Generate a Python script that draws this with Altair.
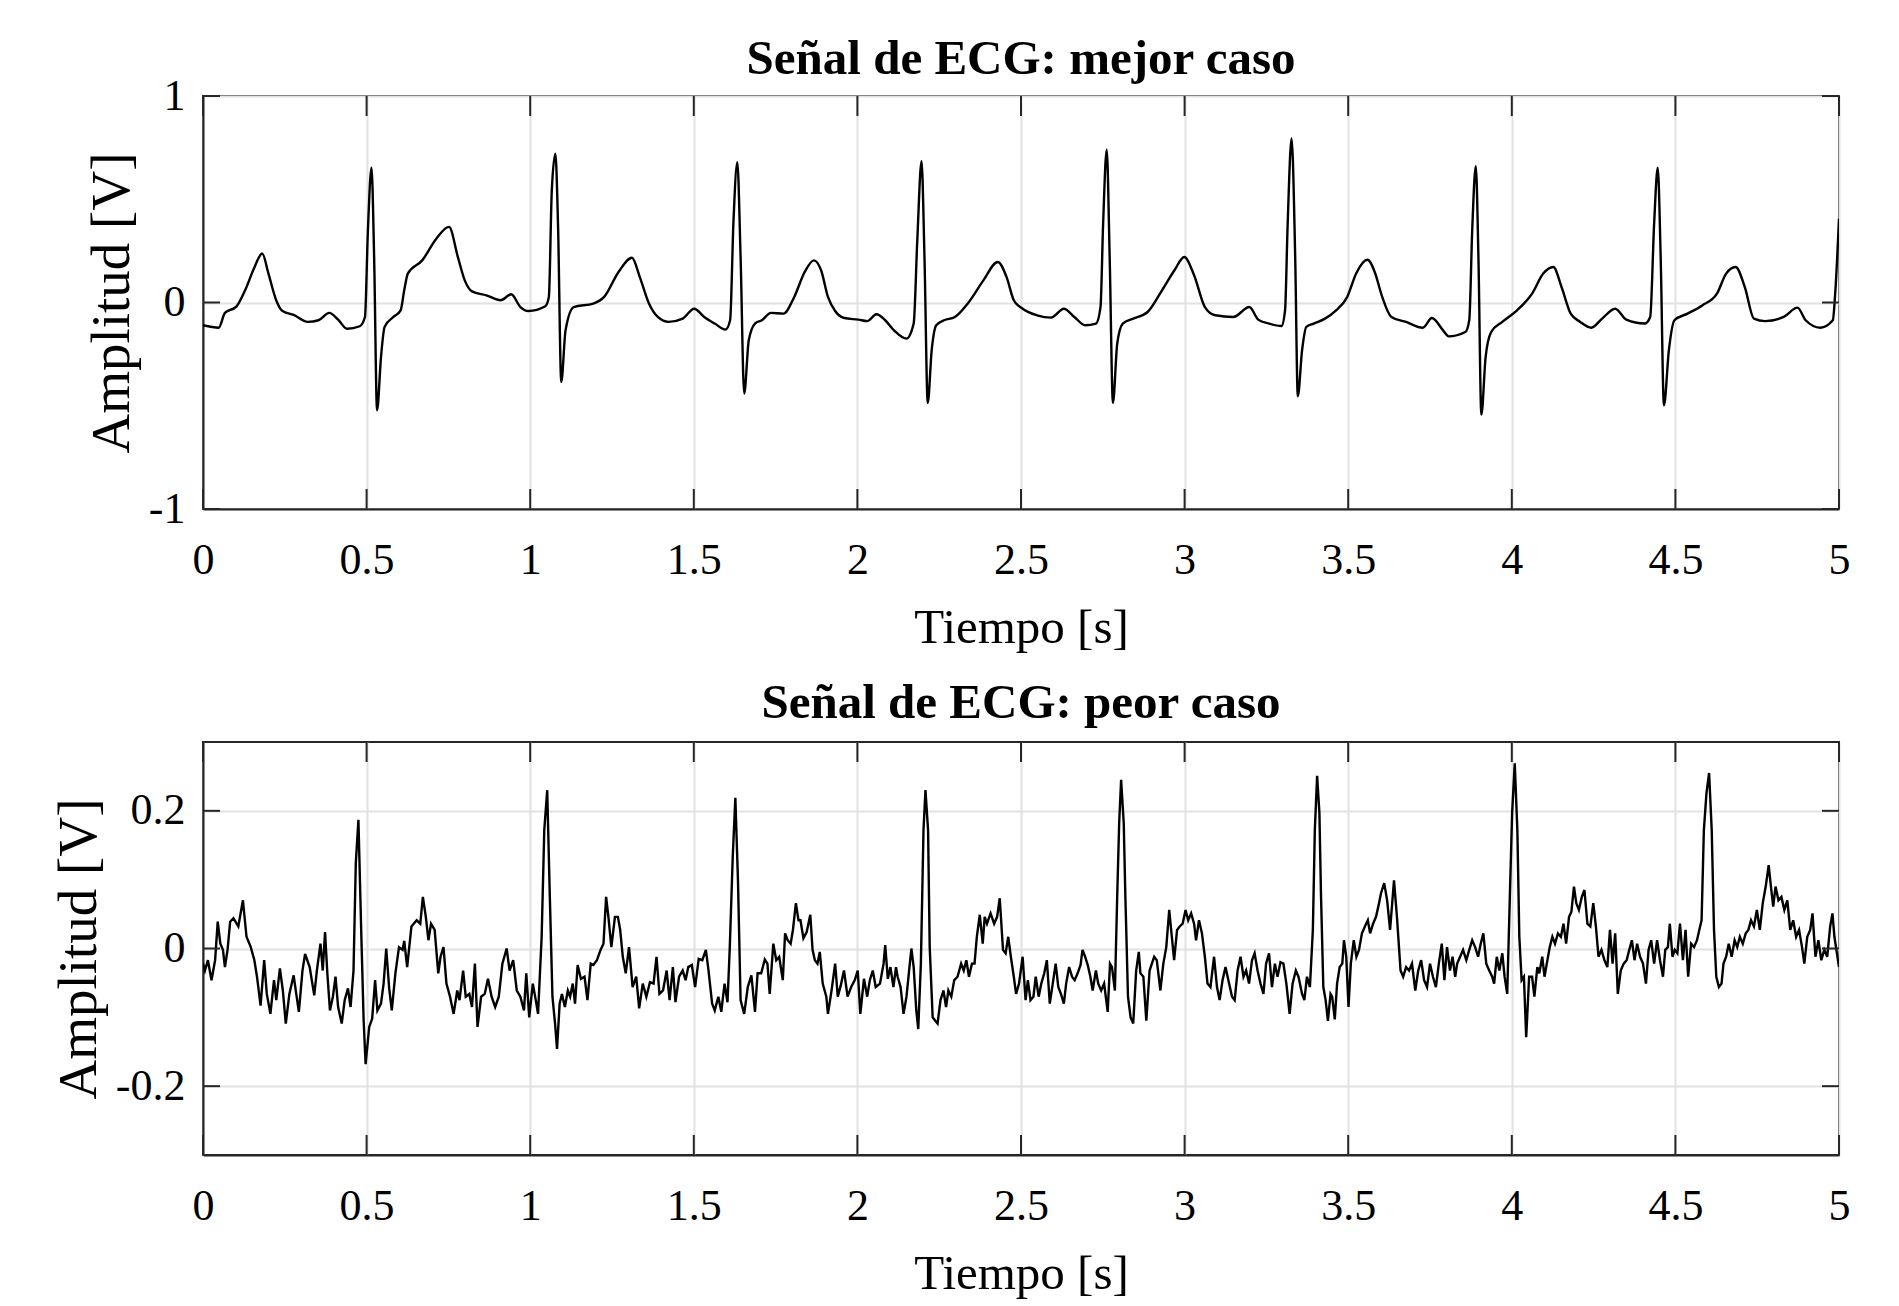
import altair as alt
import pandas as pd

# ---------------- data ----------------
best_t = [0.0, 0.048, 0.067, 0.102, 0.129, 0.157, 0.181, 0.2, 0.224, 0.242, 0.277, 0.32, 0.353, 0.386, 0.413, 0.44, 0.479, 0.495,
          0.504, 0.515, 0.523, 0.532, 0.544, 0.555, 0.582, 0.604, 0.615, 0.626, 0.670, 0.713, 0.752, 0.779, 0.8, 0.822, 0.866,
          0.91, 0.942, 0.97, 0.995, 1.046, 1.057, 1.066, 1.077, 1.085, 1.095, 1.108, 1.133, 1.193, 1.226, 1.27, 1.311, 1.335,
          1.363, 1.39, 1.423, 1.466, 1.501, 1.532, 1.564, 1.597, 1.611, 1.621, 1.633, 1.643, 1.654, 1.668, 1.687,
          1.708, 1.736, 1.774, 1.807, 1.839, 1.867, 1.889, 1.91, 1.932, 1.96, 2.003, 2.03, 2.058, 2.085, 2.112, 2.15, 2.172,
          2.183, 2.196, 2.205, 2.215, 2.227, 2.241, 2.265, 2.298, 2.341, 2.385, 2.429, 2.456, 2.478, 2.505, 2.549, 2.592,
          2.631, 2.663, 2.696, 2.729, 2.743, 2.751, 2.762, 2.771, 2.781, 2.794, 2.811, 2.843, 2.887, 2.931, 2.969, 2.999,
          3.029, 3.062, 3.094, 3.149, 3.198, 3.225, 3.258, 3.296, 3.307, 3.315, 3.327, 3.338, 3.346, 3.359, 3.372, 3.395,
          3.429, 3.463, 3.497, 3.525, 3.559, 3.581, 3.604, 3.632, 3.677, 3.728, 3.756, 3.79, 3.807, 3.858, 3.87, 3.879,
          3.89, 3.898, 3.907, 3.92, 3.937, 3.971, 4.016, 4.062, 4.096, 4.127, 4.152, 4.18, 4.209, 4.243, 4.276, 4.316,
          4.35, 4.406, 4.423, 4.435, 4.446, 4.455, 4.465, 4.48, 4.497, 4.537, 4.582, 4.627, 4.655, 4.684, 4.712, 4.74,
          4.774, 4.831, 4.873, 4.898, 4.943, 4.981, 4.989, 5.0]
best_v = [-0.11, -0.122, -0.05, -0.02, 0.06, 0.17, 0.237, 0.14, 0.01, -0.04, -0.06, -0.094, -0.086, -0.05, -0.083, -0.127, -0.115, -0.07,
          0.35, 0.653, 0.22, -0.522, -0.264, -0.118, -0.07, -0.038, 0.059, 0.14, 0.204, 0.309, 0.366, 0.22, 0.107, 0.054, 0.035,
          0.011, 0.04, -0.022, -0.041, -0.018, 0.027, 0.543, 0.72, 0.38, -0.385, -0.135, -0.022, -0.005, 0.027, 0.148, 0.217, 0.123,
          -0.005, -0.07, -0.094, -0.078, -0.03, -0.07, -0.102, -0.131, -0.086, 0.382, 0.68, 0.22, -0.441, -0.183, -0.102,
          -0.086, -0.05, -0.054, 0.027, 0.148, 0.204, 0.156, 0.027, -0.041, -0.075, -0.083, -0.09, -0.057, -0.086, -0.135, -0.175, -0.102,
          0.3, 0.684, 0.22, -0.486, -0.232, -0.11, -0.086, -0.07, 0.003, 0.107, 0.196, 0.123, 0.011, -0.03, -0.062, -0.073,
          -0.03, -0.07, -0.11, -0.102, -0.022, 0.382, 0.74, 0.22, -0.486, -0.2, -0.102, -0.078, -0.046, 0.059, 0.156, 0.22,
          0.132, -0.022, -0.062, -0.07, -0.022, -0.083, -0.102, -0.114, -0.038, 0.382, 0.794, 0.22, -0.454, -0.232, -0.118, -0.102,
          -0.078, -0.038, 0.027, 0.143, 0.207, 0.148, 0.027, -0.07, -0.094, -0.122, -0.075, -0.135, -0.164, -0.143, -0.086, 0.35,
          0.66, 0.22, -0.543, -0.264, -0.143, -0.094, -0.038, 0.043, 0.14, 0.172, 0.075, -0.054, -0.094, -0.122, -0.078, -0.03,
          -0.083, -0.102, -0.07, 0.382, 0.653, 0.22, -0.498, -0.232, -0.086, -0.054, -0.014, 0.043, 0.14, 0.172, 0.075, -0.078,
          -0.09, -0.07, -0.025, -0.086, -0.122, -0.086, 0.059, 0.406]

worst_t = [0.0, 0.006, 0.015, 0.026, 0.037, 0.045, 0.053, 0.061, 0.067, 0.075, 0.083, 0.093, 0.108, 0.122, 0.133, 0.146, 0.157, 0.165,
           0.176, 0.187, 0.195, 0.206, 0.217, 0.224, 0.235, 0.244, 0.253, 0.264, 0.277, 0.285, 0.293, 0.304, 0.312, 0.326, 0.340,
           0.348, 0.359, 0.366, 0.373, 0.380, 0.388, 0.397, 0.405, 0.413, 0.424, 0.433, 0.443, 0.451, 0.460, 0.467, 0.475, 0.484,
           0.491, 0.497, 0.508, 0.517, 0.526, 0.533, 0.544, 0.552, 0.560, 0.569, 0.577, 0.588, 0.599, 0.610, 0.615, 0.624, 0.637,
           0.653, 0.664, 0.672, 0.681, 0.689, 0.697, 0.708, 0.719, 0.726, 0.735, 0.744, 0.755, 0.766, 0.777, 0.784, 0.795, 0.803,
           0.814, 0.822, 0.831, 0.839, 0.850, 0.861, 0.871, 0.882, 0.893, 0.904, 0.915, 0.928, 0.937, 0.948, 0.959, 0.970, 0.981,
           0.988, 0.997, 1.008, 1.017, 1.024, 1.035, 1.043, 1.052, 1.060, 1.068, 1.076, 1.082, 1.090, 1.097, 1.106, 1.115, 1.122,
           1.130, 1.137, 1.145, 1.155, 1.166, 1.175, 1.185, 1.193, 1.204, 1.215, 1.224, 1.232, 1.239, 1.248, 1.259, 1.268, 1.275,
           1.283, 1.292, 1.302, 1.313, 1.324, 1.333, 1.344, 1.355, 1.366, 1.377, 1.386, 1.395, 1.406, 1.417, 1.426, 1.436, 1.444,
           1.455, 1.466, 1.475, 1.483, 1.494, 1.504, 1.515, 1.526, 1.537, 1.545, 1.556, 1.564, 1.575, 1.584, 1.594, 1.603, 1.610,
           1.619, 1.627, 1.635, 1.643, 1.654, 1.665, 1.676, 1.687, 1.695,
           1.706, 1.717, 1.725, 1.732, 1.743, 1.752, 1.761, 1.772, 1.779, 1.787, 1.796, 1.803, 1.812, 1.820, 1.826, 1.835, 1.845,
           1.856, 1.863, 1.870, 1.878, 1.885, 1.894, 1.905, 1.910, 1.921, 1.932, 1.940, 1.949, 1.959, 1.970, 1.981, 1.992, 2.001,
           2.009, 2.020, 2.030, 2.038, 2.047, 2.056, 2.069, 2.080, 2.085, 2.093, 2.101, 2.110, 2.118, 2.123, 2.132, 2.141, 2.150,
           2.158, 2.165, 2.172, 2.180, 2.186, 2.194, 2.202, 2.208, 2.216, 2.221, 2.230, 2.238, 2.245, 2.254, 2.263, 2.271, 2.278,
           2.287, 2.296, 2.306, 2.317, 2.325, 2.333, 2.341, 2.350, 2.358, 2.365, 2.374, 2.383, 2.389, 2.396, 2.407, 2.418, 2.427,
           2.435, 2.445, 2.453, 2.461, 2.469, 2.478, 2.485, 2.494, 2.505, 2.514, 2.521, 2.529, 2.538, 2.545, 2.554, 2.562, 2.571,
           2.579, 2.588, 2.597, 2.606, 2.614, 2.622, 2.631, 2.638, 2.647, 2.656, 2.664, 2.673, 2.682, 2.688, 2.696, 2.704, 2.712,
           2.719, 2.729, 2.736, 2.745, 2.754, 2.765, 2.772, 2.778, 2.787, 2.794, 2.800, 2.806, 2.814, 2.819, 2.827, 2.835, 2.843,
           2.852, 2.860, 2.865, 2.874, 2.883, 2.893, 2.900, 2.907, 2.915, 2.926, 2.935, 2.944, 2.953, 2.961, 2.968, 2.977, 2.985,
           2.994, 3.003, 3.011, 3.020, 3.029, 3.035, 3.044, 3.053, 3.062, 3.070, 3.079, 3.090, 3.099, 3.107, 3.116, 3.125, 3.136,
           3.145, 3.153, 3.162, 3.171, 3.180, 3.188, 3.197, 3.206, 3.214, 3.223, 3.232, 3.241, 3.249, 3.258, 3.267, 3.276, 3.284,
           3.293, 3.302, 3.311, 3.321, 3.330, 3.340, 3.348,
           3.359, 3.366, 3.374, 3.383, 3.392, 3.398, 3.405, 3.412, 3.417, 3.424, 3.431, 3.438, 3.446, 3.451, 3.459, 3.466, 3.474,
           3.482, 3.487, 3.494, 3.501, 3.508, 3.517, 3.525, 3.533, 3.542, 3.551, 3.560, 3.567, 3.576, 3.585, 3.593, 3.600, 3.610,
           3.619, 3.628, 3.640, 3.649, 3.660, 3.668, 3.677, 3.686, 3.695, 3.705, 3.714, 3.723, 3.732, 3.741, 3.750, 3.759, 3.768,
           3.777, 3.786, 3.794, 3.802, 3.811, 3.819, 3.827, 3.833, 3.842, 3.851, 3.861, 3.870, 3.879, 3.888, 3.897, 3.905, 3.913,
           3.922, 3.931, 3.940, 3.946, 3.954, 3.962, 3.971, 3.978, 3.986, 3.994, 4.001, 4.009, 4.017, 4.023, 4.030, 4.037, 4.044,
           4.053, 4.062, 4.069, 4.078, 4.084, 4.093, 4.100, 4.107, 4.116, 4.124, 4.132, 4.141, 4.150, 4.158, 4.166, 4.175, 4.182,
           4.190, 4.197, 4.205, 4.214, 4.222, 4.231, 4.240, 4.249, 4.257, 4.265, 4.274, 4.283, 4.292, 4.300, 4.308, 4.316, 4.324,
           4.333, 4.342, 4.351, 4.359, 4.367, 4.375, 4.383, 4.392, 4.401, 4.410, 4.418, 4.426, 4.435, 4.444, 4.453, 4.462, 4.469,
           4.477, 4.483, 4.491, 4.498, 4.506, 4.514, 4.523, 4.531, 4.539, 4.548, 4.557, 4.566, 4.573, 4.580, 4.587, 4.595, 4.603,
           4.611, 4.618, 4.625, 4.633, 4.641, 4.647, 4.655, 4.663, 4.672, 4.681, 4.689, 4.697, 4.706, 4.715, 4.723, 4.731, 4.740,
           4.749, 4.758, 4.767, 4.776, 4.785, 4.792, 4.799, 4.806, 4.815, 4.824, 4.833, 4.842, 4.851, 4.860, 4.869, 4.878, 4.887,
           4.894, 4.903, 4.912, 4.919, 4.928, 4.937, 4.946, 4.955, 4.964, 4.973, 4.980, 4.986, 5.0]
worst_v = [-0.022, -0.032, -0.017, -0.046, -0.017, 0.039, 0.007, -0.002, -0.027, -0.002, 0.039, 0.044, 0.032, 0.070, 0.017, 0.002, -0.017, -0.041,
           -0.083, -0.017, -0.066, -0.095, -0.046, -0.075, -0.029, -0.061, -0.109, -0.066, -0.039, -0.066, -0.092, -0.032, -0.008, -0.027, -0.068,
           -0.032, 0.007, -0.032, 0.024, -0.036, -0.090, -0.070, -0.041, -0.085, -0.109, -0.075, -0.058, -0.085, -0.032, 0.124, 0.187, 0.017,
           -0.105, -0.168, -0.114, -0.102, -0.046, -0.090, -0.080, -0.051, 0.000, -0.058, -0.090, -0.036, 0.002, -0.002, 0.011, -0.027, 0.032,
           0.041, 0.036, 0.075, 0.046, 0.012, 0.036, 0.027, -0.036, -0.012, 0.002, -0.051, -0.070, -0.095, -0.061, -0.075, -0.032, -0.070,
           -0.066, -0.085, -0.022, -0.114, -0.070, -0.066, -0.044, -0.070, -0.085, -0.070, -0.022, 0.000, -0.032, -0.017, -0.061, -0.070, -0.090,
           -0.036, -0.100, -0.051, -0.075, -0.095, 0.017, 0.172, 0.230, 0.075, -0.070, -0.109, -0.146, -0.080, -0.066, -0.085, -0.061, -0.070,
           -0.051, -0.080, -0.024, -0.044, -0.041, -0.075, -0.022, -0.024, -0.017, -0.002, 0.007, 0.075, 0.046, 0.002, 0.046, 0.046, 0.027,
           -0.012, -0.036, 0.002, -0.056, -0.041, -0.087, -0.051, -0.070, -0.049, -0.051, -0.012, -0.066, -0.061, -0.032, -0.075, -0.027, -0.078,
           -0.041, -0.032, -0.046, -0.027, -0.024, -0.056, -0.015, -0.017, -0.002, -0.032, -0.080, -0.090, -0.070, -0.092, -0.051, -0.078, 0.002,
           0.133, 0.219, 0.099, -0.075, -0.095, -0.056, -0.039, -0.092, -0.036,
           -0.036, -0.016, -0.022, -0.066, 0.007, -0.017, -0.012, -0.046, 0.022, 0.012, 0.007, 0.027, 0.066, 0.041, 0.041, 0.015, 0.024,
           0.049, -0.002, -0.017, -0.022, -0.005, -0.051, -0.070, -0.095, -0.061, -0.022, -0.070, -0.054, -0.032, -0.070, -0.056, -0.046, -0.032,
           -0.095, -0.044, -0.070, -0.046, -0.032, -0.056, -0.051, -0.022, 0.005, -0.044, -0.027, -0.056, -0.027, -0.041, -0.056, -0.095, -0.070,
           -0.032, 0.000, -0.027, -0.090, -0.117, -0.022, 0.172, 0.230, 0.172, 0.002, -0.100, -0.105, -0.109, -0.075, -0.061, -0.085, -0.061,
           -0.070, -0.046, -0.041, -0.022, -0.032, -0.017, -0.041, -0.022, -0.022, 0.017, 0.049, 0.007, 0.046, 0.036, 0.051, 0.036, 0.046,
           0.073, -0.002, -0.007, 0.017, -0.012, -0.041, -0.066, -0.051, -0.012, -0.075, -0.046, -0.075, -0.070, -0.041, -0.070, -0.051, -0.036,
           -0.017, -0.080, -0.051, -0.022, -0.056, -0.066, -0.080, -0.051, -0.027, -0.041, -0.046, -0.036, -0.024, -0.002, -0.012, -0.024, -0.041,
           -0.061, -0.032, -0.051, -0.061, -0.051, -0.092, -0.022, -0.027, -0.061, 0.075, 0.182, 0.245, 0.182, 0.075, -0.070, -0.100, -0.109,
           -0.032, -0.005, -0.036, -0.041, -0.105, -0.032, -0.022, -0.012, -0.017, -0.061, -0.022, 0.002, 0.056, 0.017, -0.017, 0.027, 0.032,
           0.036, 0.056, 0.041, 0.051, 0.036, 0.012, 0.041, 0.022, -0.012, -0.051, -0.056, -0.012, -0.056, -0.075, -0.046, -0.027, -0.051,
           -0.070, -0.075, -0.032, -0.012, -0.041, -0.032, -0.051, -0.017, -0.007, -0.032, -0.051, -0.066, -0.022, -0.007, -0.056, -0.022, -0.041,
           -0.020, -0.022, -0.051, -0.095, -0.051, -0.032, -0.041,
           -0.066, -0.075, -0.041, -0.056, 0.027, 0.172, 0.251, 0.197, 0.075, -0.056, -0.075, -0.105, -0.066, -0.070, -0.103, -0.051, -0.027,
           -0.022, 0.012, -0.012, -0.085, -0.022, 0.012, -0.012, -0.002, 0.022, 0.032, 0.041, 0.022, 0.036, 0.046, 0.063, 0.080, 0.095,
           0.070, 0.027, 0.099, 0.046, -0.032, -0.041, -0.027, -0.032, -0.022, -0.061, -0.032, -0.017, -0.046, -0.056, -0.022, -0.041, -0.056,
           -0.022, 0.007, -0.046, 0.002, -0.032, -0.012, -0.041, -0.022, -0.012, -0.002, -0.017, -0.002, 0.012, 0.002, -0.012, 0.007, 0.022,
           -0.022, -0.032, -0.041, -0.051, -0.012, -0.032, -0.007, -0.041, -0.066, 0.075, 0.197, 0.269, 0.172, 0.017, -0.046, -0.041, -0.129,
           -0.041, -0.041, -0.070, -0.027, -0.036, -0.012, -0.041, -0.022, 0.002, 0.017, 0.007, 0.022, 0.017, 0.036, 0.007, 0.046, 0.053,
           0.090, 0.066, 0.056, 0.075, 0.085, 0.036, 0.032, 0.066, 0.032, -0.012, -0.002, -0.017, -0.027, 0.027, -0.022, 0.022, -0.066,
           -0.032, -0.022, -0.017, -0.002, 0.012, -0.017, 0.007, -0.012, -0.022, -0.051, -0.002, 0.012, -0.022, 0.012, -0.017, -0.041, -0.002,
           0.002, 0.036, -0.012, -0.002, -0.007, 0.036, -0.017, 0.027, -0.041, 0.007, 0.002, 0.012, 0.027, 0.041, 0.172, 0.226, 0.255,
           0.172, 0.027, -0.041, -0.056, -0.051, -0.022, -0.012, 0.007, -0.012, 0.012, 0.002, 0.017, 0.007, 0.022, 0.027, 0.041, 0.032,
           0.056, 0.027, 0.066, 0.090, 0.121, 0.090, 0.061, 0.090, 0.070, 0.075, 0.056, 0.070, 0.027, 0.041, 0.017, 0.027, 0.002,
           -0.022, 0.017, 0.027, 0.051, -0.012, 0.012, -0.017, -0.002, -0.012, 0.032, 0.051, 0.017, -0.027]

x_ticks = [0, 0.5, 1, 1.5, 2, 2.5, 3, 3.5, 4, 4.5, 5]
best_y_ticks = [-1, 0, 1]
worst_y_ticks = [-0.2, 0, 0.2]

titles = ["Señal de ECG: mejor caso", "Señal de ECG: peor caso"]
x_title = "Tiempo [s]"
y_title = "Amplitud [V]"

# ---------------- styling ----------------
W, H = 1636, 413
XT, YT = 20, 17
FONT = "Liberation Serif"
FRAME = "#262626"


def panel(t, v, yticks, ydomain, title, title_offset, interp):
    df = pd.DataFrame({"t": t, "v": v})
    xs = alt.Scale(domain=[0, 5], nice=False, zero=False)
    ys = alt.Scale(domain=ydomain, nice=False, zero=False)
    xa = alt.Axis(values=x_ticks, title=x_title, labelExpr="'' + datum.value",
                  tickSize=0, labelPadding=29, titlePadding=21, labelFlush=False, labelOverlap=False,
                  titleFontSize=49, labelFontSize=44)
    ya = alt.Axis(values=yticks, title=y_title, labelExpr="'' + datum.value",
                  tickSize=0, labelPadding=18, titlePadding=8, labelFlush=False, labelOverlap=False,
                  titleFontSize=55, labelFontSize=44)
    X = alt.X("t:Q", scale=xs, axis=xa, title=x_title)
    Y = alt.Y("v:Q", scale=ys, axis=ya, title=y_title)
    line = alt.Chart(df).mark_line(color="black", strokeWidth=2.4, clip=True,
                                   interpolate=interp).encode(x=X, y=Y)
    xt = pd.DataFrame({"t": x_ticks})
    yt = pd.DataFrame({"v": yticks})
    rule = dict(color=FRAME, strokeWidth=2)
    top_t = alt.Chart(xt).mark_rule(**rule).encode(x=X, y=alt.value(0), y2=alt.value(XT))
    bot_t = alt.Chart(xt).mark_rule(**rule).encode(x=X, y=alt.value(H), y2=alt.value(H - XT))
    left_t = alt.Chart(yt).mark_rule(**rule).encode(y=Y, x=alt.value(0), x2=alt.value(YT))
    right_t = alt.Chart(yt).mark_rule(**rule).encode(y=Y, x=alt.value(W), x2=alt.value(W - YT))
    return alt.layer(line, top_t, bot_t, left_t, right_t).properties(
        width=W, height=H,
        title=alt.Title(title, font=FONT, fontSize=49, fontWeight="bold", color="black", offset=title_offset))


top = panel(best_t, best_v, best_y_ticks, [-1, 1], titles[0], -10, "monotone")
bottom = panel(worst_t, worst_v, worst_y_ticks, [-0.3, 0.3], titles[1], 13, "linear")

chart = alt.vconcat(top, bottom, spacing=25).properties(
    padding={"left": 42, "top": 26, "right": 5, "bottom": 5}
).configure(
    background="white"
).configure_view(
    stroke=FRAME, strokeWidth=2
).configure_axis(
    labelFont=FONT, titleFont=FONT, labelColor="black", titleColor="black",
    titleFontWeight="normal", domainColor=FRAME, domainWidth=2,
    gridColor="#e2e2e2", gridWidth=2, grid=True,
)

chart.save("out.html", embed_options={"renderer": "svg", "actions": False})
